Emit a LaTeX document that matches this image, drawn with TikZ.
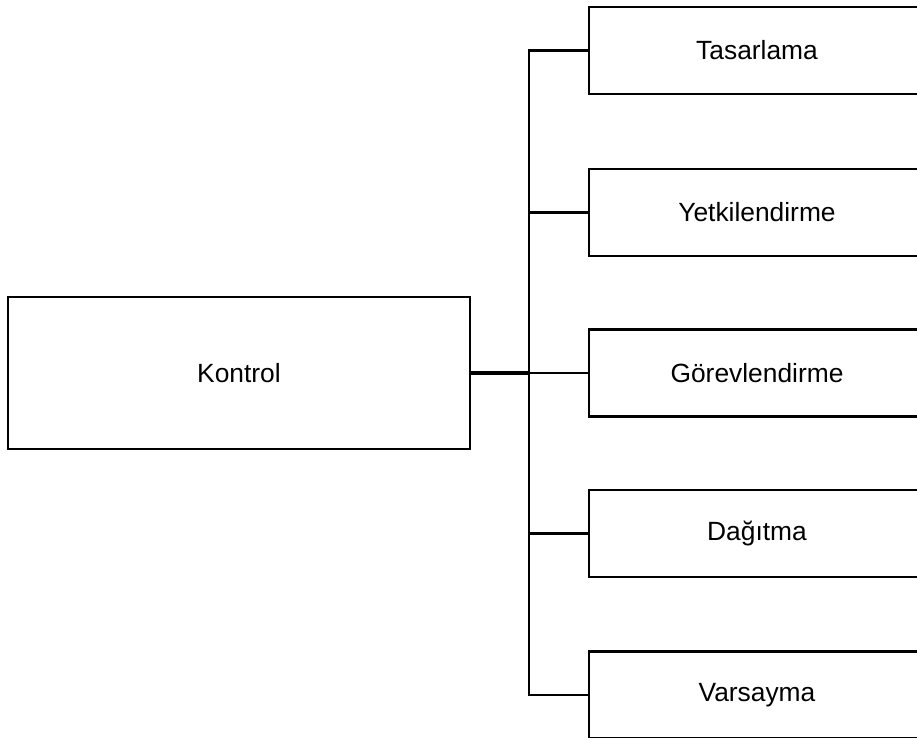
\documentclass[tikz,border=0pt]{standalone}
\usepackage{fontspec}
\setmainfont{Liberation Sans}
\usepackage{tikz}

\begin{document}
\begin{tikzpicture}[x=0.03cm, y=-0.03cm,
  kutu/.style={draw, line width=2.2pt, minimum width=10.08cm, minimum height=2.61cm, inner sep=0pt, font=\fontsize{22.5}{27}\selectfont},
  bag/.style={line width=2.2pt}]
\useasboundingbox (0,0) rectangle (917,738);
\clip (0,0) rectangle (917,738);
\node[kutu, minimum width=13.86cm, minimum height=4.56cm] (K) at (239,373) {Kontrol};
\node[kutu] (T) at (757,50.5) {Tasarlama};
\node[kutu] (Y) at (757,212.5) {Yetkilendirme};
\node[kutu] (G) at (757,373) {Görevlendirme};
\node[kutu] (D) at (757,533.5) {Dağıtma};
\node[kutu] (V) at (757,695) {Varsayma};
\coordinate (trunk) at (529,50.5);
\draw[bag] (T.west) -- (trunk) -- (trunk |- V.west) -- (V.west);
\draw[bag] (Y.west) -- (Y.west -| trunk);
\draw[bag] (D.west) -- (D.west -| trunk);
\draw[bag, line width=3pt] (K.east) -- (K.east -| trunk);
\draw[bag, line width=1.6pt] (G.west) -- (G.west -| trunk);
\end{tikzpicture}
\end{document}
